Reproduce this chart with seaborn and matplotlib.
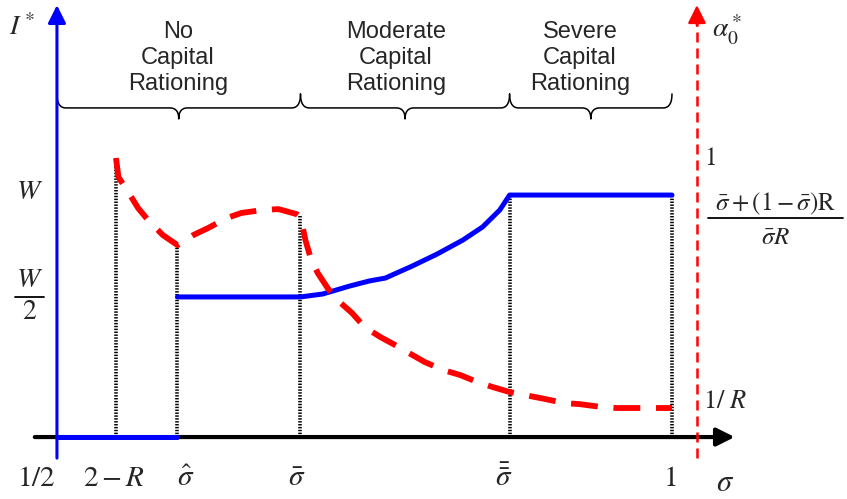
import numpy as np
import pandas as pd
import matplotlib
matplotlib.use("Agg")
import matplotlib.pyplot as plt
import seaborn as sns

sns.set_style("white")
plt.rcParams['font.family'] = ['Liberation Sans', 'DejaVu Sans']
plt.rcParams['mathtext.fontset'] = 'stix'

# sigma positions marked on the horizontal axis
tick_sigma = [0.5, 0.548, 0.598, 0.698, 0.868, 1.0]
tick_labels = [r'$1/2$', r'$2-R$', r'$\hat{\sigma}$', r'$\bar{\sigma}$',
               r'$\bar{\bar{\sigma}}$', r'$1$']
tick_shift = [-21, -2, 8, -4, -6, -2]  # label nudges, pixels

# regions above the plot
region_names = ['No\nCapital\nRationing', 'Moderate\nCapital\nRationing',
                'Severe\nCapital\nRationing']
region_bounds = [(0.5, 0.698), (0.698, 0.868), (0.868, 1.0)]
region_text_x = [0.5985, 0.7756, 0.9252]

# I* (blue, left axis; W = 1)
blue_seg = [0, 0, 1, 1, 1, 1, 1, 1, 1, 1, 1, 1, 1, 1, 1, 1]
blue_sigma = [0.5, 0.598, 0.598, 0.698, 0.716, 0.738, 0.754, 0.767, 0.789,
              0.809, 0.830, 0.846, 0.860, 0.868, 0.934, 1.0]
blue_inv = [0.0, 0.0, 0.579, 0.579, 0.591, 0.624, 0.645, 0.657, 0.707,
            0.756, 0.814, 0.868, 0.938, 1.0, 1.0, 1.0]

# alpha_0* (red, right axis, same vertical scale)
red_sigma = [0.548, 0.550, 0.558, 0.566, 0.574, 0.586, 0.598, 0.611, 0.623,
             0.638, 0.650, 0.667, 0.680, 0.695, 0.698, 0.702, 0.706, 0.712,
             0.720, 0.728, 0.740, 0.750, 0.763, 0.775, 0.789, 0.799, 0.814,
             0.828, 0.842, 0.854, 0.868, 0.885, 0.897, 0.913, 0.925, 0.943,
             0.955, 1.0]
red_alpha = [1.153, 1.074, 1.012, 0.946, 0.897, 0.835, 0.793, 0.835, 0.864,
             0.905, 0.926, 0.938, 0.942, 0.921, 0.909, 0.814, 0.744, 0.678,
             0.616, 0.566, 0.512, 0.455, 0.413, 0.380, 0.339, 0.310, 0.277,
             0.256, 0.227, 0.207, 0.186, 0.169, 0.157, 0.140, 0.136, 0.124,
             0.120, 0.120]

# dotted guides: sigma and height
guide_sigma = [0.548, 0.598, 0.698, 0.868, 1.0]
guide_top = [1.153, 0.793, 0.917, 1.0, 1.0]

left_labels = [r'$W$', r'$W$', r'$2$']
left_y = [1.012, 0.649, 0.515]

red_axis_x = 1.0203
PXX, PXY = 1 / 1230, 1 / 242

fig = plt.figure(figsize=(8.47, 4.99), dpi=100)
ax = fig.add_axes([0, 0, 1, 1])
ax.set_xlim(0.4537, 1.1423)
ax.set_ylim(-0.256, 1.806)
ax.axis('off')

# dotted vertical guides
for s, top in zip(guide_sigma, guide_top):
    ax.plot([s, s], [0, top], color='black', lw=2.6, linestyle=(0, (0.4, 0.4)), zorder=2)

# horizontal axis
ax.annotate('', xy=(1.051, 0), xytext=(0.482, 0),
            arrowprops=dict(arrowstyle='-|>,head_length=0.6,head_width=0.3',
                            mutation_scale=18, lw=3, color='black',
                            shrinkA=0, shrinkB=0), zorder=3)
# blue left axis
ax.annotate('', xy=(0.5, 1.785), xytext=(0.5, -0.087),
            arrowprops=dict(arrowstyle='-|>,head_length=0.6,head_width=0.3',
                            mutation_scale=18, lw=2.2, color='#0000ff',
                            shrinkA=0, shrinkB=0), zorder=4)
# red right axis (dashed shaft + solid head)
ax.plot([red_axis_x, red_axis_x], [-0.087, 1.72], color='#ff0000', lw=1.8,
        linestyle=(0, (4, 2.4)), zorder=3)
ax.annotate('', xy=(red_axis_x, 1.785), xytext=(red_axis_x, 1.70),
            arrowprops=dict(arrowstyle='-|>,head_length=0.6,head_width=0.3',
                            mutation_scale=18, lw=1.8, color='#ff0000',
                            shrinkA=0, shrinkB=0), zorder=3)

# curves
blue_df = pd.DataFrame({'sigma': blue_sigma, 'inv': blue_inv, 'seg': blue_seg})
sns.lineplot(data=blue_df, x='sigma', y='inv', units='seg', estimator=None,
             sort=False, color='#0000ff', lw=3.6, ax=ax, zorder=5)
red_df = pd.DataFrame({'sigma': red_sigma, 'alpha': red_alpha})
sns.lineplot(data=red_df, x='sigma', y='alpha', estimator=None, sort=False,
             color='#ff0000', lw=4.2, linestyle=(0, (4.6, 2.7)), ax=ax, zorder=6)


# curly braces
def brace(ax, x0, x1, y_line, tip=14, drop=11, curl=9):
    t = np.linspace(0, 1, 25)[:, None]

    def qb(p0, p1, p2):
        p0, p1, p2 = map(np.array, (p0, p1, p2))
        return (1 - t) ** 2 * p0 + 2 * (1 - t) * t * p1 + t ** 2 * p2

    w = (x1 - x0) / PXX
    m = w / 2
    parts = [qb((0, tip), (0, 0), (curl, 0)),
             qb((m - curl, 0), (m, 0), (m, -drop)),
             qb((m, -drop), (m, 0), (m + curl, 0)),
             qb((w - curl, 0), (w, 0), (w, tip))]
    pts = np.vstack(parts)
    ax.plot(x0 + pts[:, 0] * PXX, y_line + pts[:, 1] * PXY, color='black',
            lw=1.1, zorder=3)


for (a, b), name, tx in zip(region_bounds, region_names, region_text_x):
    brace(ax, a, b, 1.36)
    ax.text(tx, 1.566, name, ha='center', va='center', fontsize=17,
            linespacing=1.22)

# tick labels under the axis
for s, lab, dx in zip(tick_sigma, tick_labels, tick_shift):
    ax.annotate(lab, (s, -0.169), xytext=(dx, 0), textcoords='offset pixels',
                ha='center', va='center', fontsize=21)
ax.text(1.043, -0.19, r'$\sigma$', ha='center', va='center', fontsize=22)

# left axis labels
ax.text(0.4715, 1.694, r'$I^*$', ha='center', va='center', fontsize=20)
for lab, y in zip(left_labels, left_y):
    ax.text(0.4776, y, lab, ha='center', va='center', fontsize=20)
ax.plot([0.4655, 0.4896], [0.579, 0.579], color='black', lw=1.3)

# right axis labels
ax.text(1.0325, 1.682, r'$\alpha_0^*$', ha='left', va='center', fontsize=20)
ax.text(1.026, 1.153, r'$1$', ha='left', va='center', fontsize=18)
ax.text(1.0845, 0.965, r'$\bar{\sigma}+(1-\bar{\sigma})\mathrm{R}$',
        ha='center', va='center', fontsize=18)
ax.plot([1.029, 1.1392], [0.905, 0.905], color='black', lw=1.3)
ax.text(1.0845, 0.826, r'$\bar{\sigma}R$', ha='center', va='center', fontsize=18)
ax.text(1.025, 0.149, r'$1/\ R$', ha='left', va='center', fontsize=19)

fig.savefig('out.png', dpi=100)
